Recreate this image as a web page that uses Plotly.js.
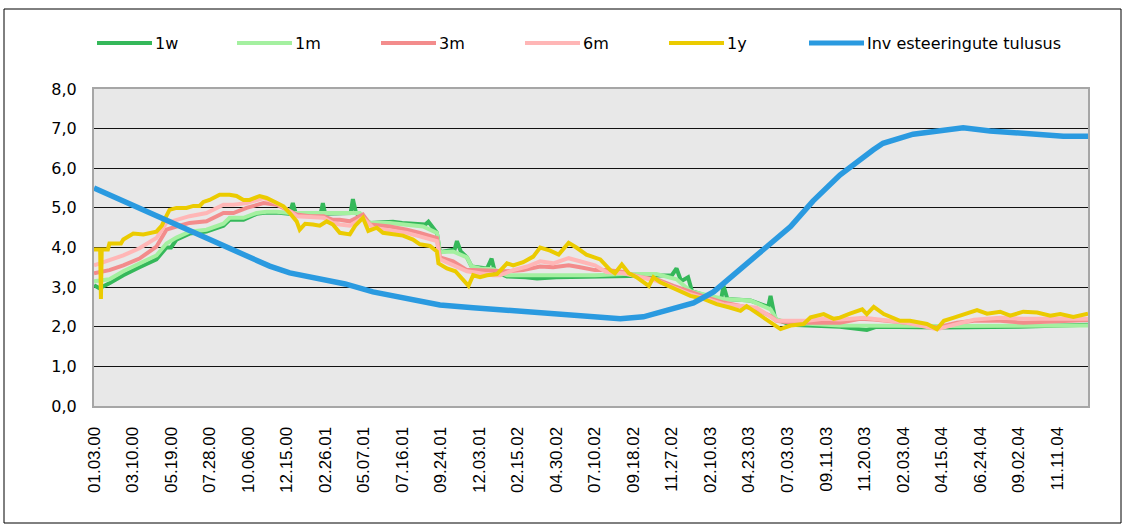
<!DOCTYPE html>
<html><head><meta charset="utf-8">
<script src="https://cdn.plot.ly/plotly-3.0.1.min.js"></script>
<style>html,body{margin:0;padding:0;background:#fff;} #chart{width:1127px;height:527px;}</style>
</head><body><div id="chart"></div>
<script>
// Business-day index of each tick label
const tickDays = [0,50,100,150,200,250,300,350,400,450,500,550,600,650,700,750,800,850,900,950,1000,1050,1100,1150,1200,1250];
const tickLabels = ['01.03.00','03.10.00','05.19.00','07.28.00','10.06.00','12.15.00','02.26.01','05.07.01','07.16.01','09.24.01','12.03.01','02.15.02','04.30.02','07.10.02','09.18.02','11.27.02','02.10.03','04.23.03','07.03.03','09.11.03','11.20.03','02.03.04','04.15.04','06.24.04','09.02.04','11.11.04'];

// [business-day index, value]
const rate1w = [[0,3.05],[7,2.97],[20,3.1],[38,3.3],[59,3.5],[81,3.7],[94,4.0],[100,4.0],[107,4.2],[124,4.35],[146,4.4],[168,4.55],[176,4.7],[194,4.7],[211,4.85],[224,4.88],[237,4.88],[254,4.85],[258,5.12],[262,4.85],[294,4.85],[297,5.12],[300,4.85],[319,4.87],[333,4.87],[336,5.22],[340,4.87],[358,4.62],[388,4.65],[400,4.62],[430,4.58],[434,4.65],[445,4.37],[449,3.88],[468,3.95],[471,4.16],[476,3.9],[484,3.75],[490,3.52],[510,3.47],[516,3.72],[520,3.4],[536,3.27],[560,3.25],[575,3.22],[600,3.25],[650,3.27],[700,3.3],[750,3.3],[756,3.47],[762,3.15],[771,3.25],[776,2.9],[800,2.75],[814,2.7],[817,3.03],[822,2.7],[852,2.66],[875,2.5],[878,2.78],[884,2.2],[904,2.05],[947,2.03],[968,2.0],[1003,1.92],[1015,2.0],[1100,1.98],[1200,2.0],[1290,2.05]];
const rate1m = [[0,3.15],[20,3.2],[38,3.4],[59,3.6],[81,3.8],[94,4.1],[107,4.25],[124,4.4],[146,4.45],[168,4.6],[176,4.75],[194,4.75],[211,4.87],[224,4.9],[237,4.9],[254,4.87],[298,4.87],[319,4.87],[345,4.87],[358,4.62],[384,4.62],[427,4.53],[445,4.37],[449,3.88],[466,3.9],[484,3.75],[490,3.52],[501,3.47],[518,3.45],[536,3.3],[579,3.3],[650,3.3],[687,3.33],[730,3.33],[756,3.2],[774,2.9],[817,2.7],[852,2.66],[878,2.44],[886,2.18],[904,2.1],[947,2.07],[968,2.03],[1100,2.02],[1290,2.03]];
const rate3m = [[0,3.35],[20,3.43],[38,3.55],[59,3.72],[81,4.02],[94,4.45],[107,4.53],[124,4.62],[146,4.66],[168,4.87],[181,4.87],[198,5.0],[220,5.12],[237,5.08],[254,4.92],[263,4.83],[280,4.79],[298,4.79],[310,4.7],[319,4.7],[332,4.66],[349,4.83],[358,4.58],[384,4.53],[406,4.45],[423,4.37],[445,4.24],[449,3.75],[466,3.65],[484,3.43],[492,3.43],[518,3.4],[536,3.4],[557,3.43],[579,3.52],[596,3.5],[616,3.55],[631,3.5],[650,3.43],[665,3.43],[687,3.38],[709,3.25],[730,3.2],[752,3.03],[774,2.87],[795,2.74],[817,2.61],[839,2.52],[860,2.44],[878,2.27],[886,2.15],[904,2.1],[947,2.1],[968,2.1],[994,2.2],[1012,2.18],[1055,2.1],[1094,1.98],[1120,2.1],[1142,2.15],[1176,2.15],[1206,2.1],[1228,2.12],[1271,2.15],[1290,2.17]];
const rate6m = [[0,3.55],[20,3.68],[38,3.8],[59,3.98],[81,4.24],[94,4.62],[107,4.7],[124,4.79],[146,4.87],[168,5.08],[181,5.08],[198,5.12],[220,5.25],[237,5.12],[254,4.92],[263,4.79],[298,4.75],[310,4.62],[319,4.58],[332,4.55],[349,4.75],[362,4.5],[406,4.37],[445,4.16],[449,3.7],[484,3.4],[518,3.3],[527,3.3],[544,3.43],[562,3.52],[579,3.65],[596,3.6],[616,3.73],[631,3.65],[650,3.55],[665,3.38],[687,3.35],[730,3.16],[774,2.82],[817,2.57],[860,2.48],[886,2.15],[925,2.15],[947,2.2],[968,2.18],[999,2.23],[1055,2.1],[1094,1.94],[1142,2.18],[1176,2.23],[1206,2.2],[1250,2.2],[1290,2.2]];
const rate1y = [[0,3.95],[8,3.95],[9,2.7],[10,3.95],[18,3.95],[20,4.1],[35,4.1],[38,4.2],[51,4.35],[64,4.33],[81,4.4],[88,4.55],[94,4.8],[98,4.95],[107,5.0],[120,5.0],[129,5.05],[137,5.05],[142,5.15],[150,5.2],[163,5.33],[176,5.33],[185,5.3],[194,5.2],[202,5.2],[215,5.3],[224,5.25],[233,5.17],[237,5.12],[246,5.04],[254,4.87],[263,4.66],[267,4.45],[274,4.6],[284,4.58],[293,4.55],[302,4.66],[310,4.58],[319,4.37],[332,4.33],[339,4.55],[349,4.75],[356,4.42],[367,4.5],[375,4.37],[388,4.33],[401,4.3],[414,4.2],[423,4.08],[436,4.04],[445,3.9],[447,3.6],[458,3.47],[469,3.4],[479,3.2],[486,3.03],[492,3.3],[501,3.25],[510,3.3],[523,3.33],[536,3.6],[544,3.55],[557,3.63],[570,3.77],[579,4.0],[592,3.92],[603,3.82],[616,4.12],[626,4.0],[639,3.82],[657,3.7],[670,3.43],[676,3.35],[685,3.57],[694,3.35],[704,3.25],[720,3.03],[726,3.25],[735,3.12],[748,3.0],[761,2.9],[774,2.78],[791,2.7],[808,2.57],[826,2.48],[839,2.4],[847,2.52],[860,2.35],[873,2.18],[891,1.94],[904,2.03],[921,2.07],[930,2.24],[947,2.32],[960,2.2],[968,2.23],[981,2.33],[997,2.44],[1003,2.32],[1012,2.5],[1025,2.32],[1038,2.23],[1046,2.15],[1059,2.15],[1072,2.1],[1081,2.07],[1094,1.94],[1103,2.15],[1116,2.23],[1129,2.32],[1146,2.42],[1159,2.33],[1176,2.38],[1189,2.28],[1206,2.38],[1224,2.36],[1241,2.28],[1254,2.32],[1271,2.25],[1290,2.33]];
const investReturn = [[0,5.5],[228,3.53],[254,3.36],[297,3.2],[326,3.08],[362,2.88],[406,2.7],[449,2.55],[492,2.48],[536,2.42],[579,2.35],[622,2.29],[650,2.25],[683,2.2],[713,2.25],[752,2.44],[778,2.6],[804,2.88],[842,3.5],[874,4.0],[904,4.53],[933,5.17],[959,5.68],[968,5.83],[1011,6.46],[1024,6.63],[1063,6.86],[1098,6.96],[1128,7.02],[1163,6.94],[1206,6.88],[1258,6.81],[1290,6.81]];

const seriesNames = ['1w','1m','3m','6m','1y','Inv esteeringute tulusus'];
const seriesData = [rate1w, rate1m, rate3m, rate6m, rate1y, investReturn];
const seriesColors = ['#35b85a','#a4f0a0','#f38c8c','#ffb6b6','#ebcb00','#2a9ae0'];
const seriesWidths = [4,4,4,4,4,5.5];

const W = 1127, H = 527, L = 94, R = 39, T = 89, B = 121;
const plotW = W - L - R, plotH = H - T - B;
const px2x = px => (px - L) / plotW;
const py2y = py => (H - B - py) / plotH;

const traces = seriesData.map((d, k) => ({
  type: 'scatter', mode: 'lines', name: seriesNames[k],
  x: d.map(p => p[0]), y: d.map(p => p[1]),
  line: {color: seriesColors[k], width: seriesWidths[k]},
  hoverinfo: 'skip', showlegend: false
}));

// custom legend (long line samples as in the reference)
const legendStarts = [97, 237, 381, 525, 669, 809];
const legendY = 43, sampleLen = 55;
const shapes = [{
  type: 'rect', xref: 'paper', yref: 'paper',
  x0: px2x(4), x1: px2x(1121), y0: py2y(523), y1: py2y(9),
  line: {color: '#000', width: 1}, fillcolor: 'rgba(0,0,0,0)', layer: 'above'
}];
const annotations = [];
seriesNames.forEach((n, k) => {
  shapes.push({type: 'line', xref: 'paper', yref: 'paper',
    x0: px2x(legendStarts[k]), x1: px2x(legendStarts[k] + sampleLen),
    y0: py2y(legendY), y1: py2y(legendY),
    line: {color: seriesColors[k], width: k === 5 ? 5 : 4}});
  annotations.push({xref: 'paper', yref: 'paper', x: px2x(legendStarts[k] + sampleLen + 1),
    y: py2y(legendY), xanchor: 'left', yanchor: 'middle', showarrow: false, text: n,
    font: {family: 'DejaVu Sans', size: 16, color: '#000'}});
});

const layout = {
  width: W, height: H, autosize: false,
  margin: {l: L, r: R, t: T, b: B, pad: 0},
  paper_bgcolor: '#ffffff', plot_bgcolor: '#e8e8e8',
  separators: ', ',
  showlegend: false,
  xaxis: {
    range: [0, 1290], tickmode: 'array', tickvals: tickDays, ticktext: tickLabels,
    tickangle: -90, tickfont: {family: 'Liberation Sans, Arial', size: 17, color: '#000'},
    showgrid: false, zeroline: false, showline: true, linecolor: '#a6a6a6', linewidth: 2, mirror: true,
    ticks: '', ticklabelstandoff: 12, fixedrange: true
  },
  yaxis: {
    range: [0, 8], dtick: 1, tick0: 0, tickformat: '.1f',
    tickfont: {family: 'DejaVu Sans', size: 16, color: '#000'},
    showgrid: true, gridcolor: '#111', gridwidth: 1, zeroline: false,
    showline: true, linecolor: '#a6a6a6', linewidth: 2, mirror: true,
    ticks: '', ticklabelstandoff: 12, fixedrange: true
  },
  shapes: shapes, annotations: annotations
};

Plotly.newPlot('chart', traces, layout, {displayModeBar: false, staticPlot: true});
</script></body></html>
